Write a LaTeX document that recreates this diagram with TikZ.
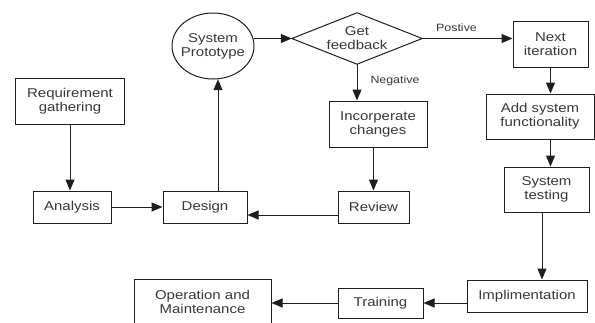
\documentclass[tikz,border=0pt]{standalone}
\usepackage{fontspec}
\setmainfont{Liberation Sans}[FakeStretch=1.17]
\usetikzlibrary{arrows.meta}
\definecolor{ln}{HTML}{1E1E1E}
\definecolor{tx}{HTML}{383838}
\begin{document}
\begin{tikzpicture}[x=1pt,y=-1pt,
  box/.style={draw=ln,line width=1pt,rectangle,inner sep=0pt,align=center,text=tx,font=\fontsize{12.8}{14}\selectfont},
  free/.style={rectangle,inner sep=0pt,align=center,text=tx,font=\fontsize{12.8}{14}\selectfont},
  lbl/.style={text=tx,font=\fontsize{10.6}{12}\selectfont,inner sep=0pt},
  arr/.style={draw=ln,line width=1pt,-{Triangle[length=11pt,width=9pt]}},
  outl/.style={draw=ln,line width=1pt}]
\useasboundingbox (0,0) rectangle (595,322);
\fill[white] (0,0) rectangle (595,322);

% nodes
\node[box,minimum width=109pt,minimum height=46pt] (req) at (70,101) {Requirement\\gathering};
\node[box,minimum width=78pt,minimum height=32pt] (analysis) at (72,207) {Analysis};
\node[box,minimum width=84pt,minimum height=32pt] (design) at (205,207) {Design};
\node[free,minimum width=82pt,minimum height=66pt] (proto) at (213,46) {System\\Prototype};
\draw[outl] (proto.center) ellipse [x radius=41, y radius=33];
\node[free,minimum width=130pt,minimum height=51pt] (fb) at (357,38.5) {Get\\feedback};
\draw[outl] (fb.west) -- (fb.north) -- (fb.east) -- (fb.south) -- cycle;
\node[box,minimum width=75pt,minimum height=46pt] (next) at (550.5,44) {Next\\iteration};
\node[box,minimum width=108pt,minimum height=45pt] (add) at (540,116.5) {Add system\\functionality};
\node[box,minimum width=98pt,minimum height=46pt] (inc) at (378,124) {Incorperate\\changes};
\node[box,minimum width=71pt,minimum height=32pt] (review) at (373.5,207) {Review};
\node[box,minimum width=85pt,minimum height=45pt] (test) at (546.5,189.5) {System\\testing};
\node[box,minimum width=120pt,minimum height=32pt] (impl) at (527,296) {Implimentation};
\node[box,minimum width=85pt,minimum height=30pt] (train) at (380.5,303) {Training};
\node[box,minimum width=137pt,minimum height=46pt] (op) at (202.5,302) {Operation and\\Maintenance};

% connectors
\draw[arr] (req.south) -- (req.south |- analysis.north);
\draw[arr] (analysis.east) -- (analysis.east -| design.west);
\draw[arr] ([xshift=13pt]design.north) -- ([xshift=13pt]design.north |- proto.south);
\draw[arr] (proto.east |- fb.west) -- (fb.west);
\draw[arr] (fb.east) -- (fb.east -| next.west)
  node[lbl,pos=0.38,above=6pt] {Postive};
\draw[arr] (fb.south) -- (fb.south |- inc.north)
  node[lbl,pos=0.45,right=13pt] {Negative};
\draw[arr] (review.north |- inc.south) -- (review.north);
\draw[arr] ([yshift=-8pt]review.west) -- ([yshift=-8pt]review.west -| design.east);
\draw[arr] (next.south) -- (next.south |- add.north);
\draw[arr] (add.south -| next.south) -- (test.north -| next.south);
\draw[arr] ([xshift=-4.5pt]test.south) -- ([xshift=-4.5pt]test.south |- impl.north);
\draw[arr] (impl.west |- train.east) -- (train.east);
\draw[arr] (train.west) -- (train.west -| op.east);
\end{tikzpicture}
\end{document}
